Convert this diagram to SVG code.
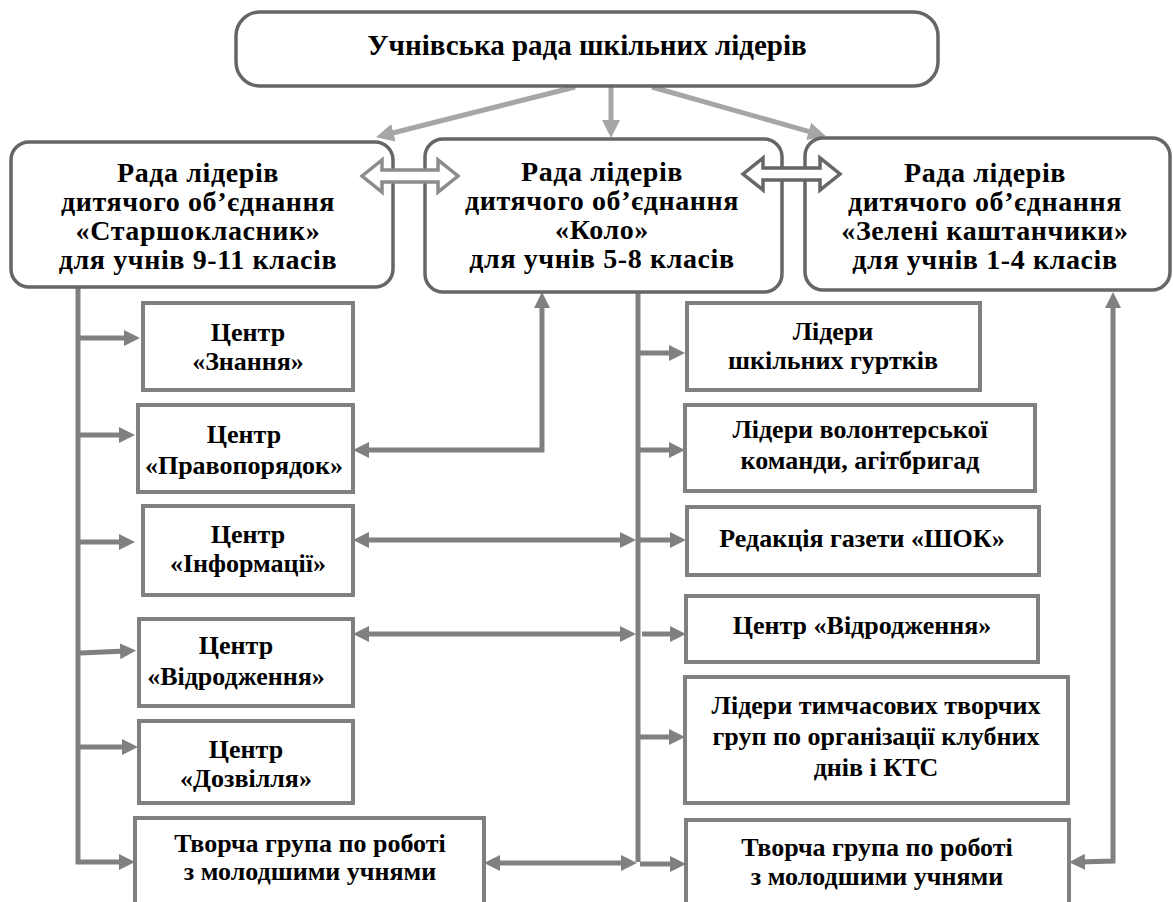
<svg xmlns="http://www.w3.org/2000/svg" width="1173" height="902" viewBox="0 0 1173 902">
<style>
.rb{fill:#fff;stroke:#666;stroke-width:3.5}
.bx{fill:#fff;stroke:#808080;stroke-width:4}
text{font-family:'Liberation Serif','Times New Roman',serif;font-weight:bold;fill:#000;text-anchor:middle}
.t1{font-size:28px;letter-spacing:0.6px}
.t2{font-size:26px}
.tt{font-size:29px}
.c{fill:none;stroke:#808080;stroke-width:5}
.cl{fill:none;stroke:#a6a6a6;stroke-width:5}
.ha{fill:#fff;stroke-width:3.5}
</style>
<defs>
<marker id="ah" viewBox="0 0 16 16" refX="6" refY="8" markerWidth="16" markerHeight="16" markerUnits="userSpaceOnUse" orient="auto-start-reverse"><path d="M0,0 L16,8 L0,16 z" fill="#808080"/></marker>
<marker id="al" viewBox="0 0 18 18" refX="7" refY="9" markerWidth="18" markerHeight="18" markerUnits="userSpaceOnUse" orient="auto-start-reverse"><path d="M0,0 L18,9 L0,18 z" fill="#a6a6a6"/></marker>
</defs>

<g id="connectors">
<path class="cl" d="M575,87 L386.7,134.5" marker-end="url(#al)"/>
<path class="cl" d="M611,87 L611,127" marker-end="url(#al)"/>
<path class="cl" d="M652,87 L815.4,133.3" marker-end="url(#al)"/>
<path class="c" d="M78,287 V862 H125" marker-end="url(#ah)"/>
<path class="c" d="M80,338 H130" marker-end="url(#ah)"/>
<path class="c" d="M80,435 H125" marker-end="url(#ah)"/>
<path class="c" d="M80,542 H125" marker-end="url(#ah)"/>
<path class="c" d="M80,653 L126,651" marker-end="url(#ah)"/>
<path class="c" d="M80,747 H128" marker-end="url(#ah)"/>
<path class="c" d="M363,450 H542 V302" marker-start="url(#ah)" marker-end="url(#ah)"/>
<path class="c" d="M638,292 V862"/>
<path class="c" d="M640,353 H675" marker-end="url(#ah)"/>
<path class="c" d="M640,450 H675" marker-end="url(#ah)"/>
<path class="c" d="M640,540 H676" marker-end="url(#ah)"/>
<path class="c" d="M642,634 H676" marker-end="url(#ah)"/>
<path class="c" d="M640,737 H675" marker-end="url(#ah)"/>
<path class="c" d="M640,864 H676" marker-end="url(#ah)"/>
<path class="c" d="M363,540 H626" marker-start="url(#ah)" marker-end="url(#ah)"/>
<path class="c" d="M363,634 H626" marker-start="url(#ah)" marker-end="url(#ah)"/>
<path class="c" d="M494,863 H627" marker-start="url(#ah)" marker-end="url(#ah)"/>
<path class="c" d="M1079,862 L1113,861 V302" marker-start="url(#ah)" marker-end="url(#ah)"/>
</g>

<g id="top">
<rect class="rb" x="236" y="12" width="702" height="74" rx="24"/>
<text class="tt" x="587" y="55">Учнівська рада шкільних лідерів</text>
</g>

<g id="left-council">
<rect class="rb" x="11" y="142" width="382" height="145" rx="18"/>
<text class="t1" x="198" y="182">Рада лідерів</text>
<text class="t1" x="198" y="211">дитячого об’єднання</text>
<text class="t1" x="198" y="240">«Старшокласник»</text>
<text class="t1" x="198" y="269">для учнів 9-11 класів</text>
</g>

<g id="mid-council">
<rect class="rb" x="425" y="139" width="357" height="153" rx="18"/>
<text class="t1" x="602" y="181">Рада лідерів</text>
<text class="t1" x="602" y="210">дитячого об’єднання</text>
<text class="t1" x="602" y="239">«Коло»</text>
<text class="t1" x="602" y="268">для учнів 5-8 класів</text>
</g>

<g id="right-council">
<rect class="rb" x="805" y="138" width="365" height="152" rx="18"/>
<text class="t1" x="985" y="182">Рада лідерів</text>
<text class="t1" x="985" y="211">дитячого об’єднання</text>
<text class="t1" x="985" y="240">«Зелені каштанчики»</text>
<text class="t1" x="985" y="269">для учнів 1-4 класів</text>
</g>

<g id="hollow-left">
<path class="ha" stroke="#8c8c8c" d="M362,176 L382,160 L382,170 L438,170 L438,160 L458,176 L438,192 L438,182 L382,182 L382,192 Z"/>
</g>
<g id="hollow-right">
<path class="ha" stroke="#666" d="M743,174 L763,158 L763,168 L820,168 L820,158 L840,174 L820,190 L820,180 L763,180 L763,190 Z"/>
</g>

<g id="c-znannia">
<rect class="bx" x="143" y="303" width="210" height="87"/>
<text class="t2" x="248" y="341">Центр</text>
<text class="t2" x="248" y="370">«Знання»</text>
</g>
<g id="c-pravoporiadok">
<rect class="bx" x="138" y="405" width="215" height="87"/>
<text class="t2" x="244" y="443">Центр</text>
<text class="t2" x="244" y="474">«Правопорядок»</text>
</g>
<g id="c-informatsii">
<rect class="bx" x="143" y="506" width="210" height="89"/>
<text class="t2" x="248" y="543">Центр</text>
<text class="t2" x="248" y="572">«Інформації»</text>
</g>
<g id="c-vidrodzhennia-l">
<rect class="bx" x="139" y="619" width="214" height="87"/>
<text class="t2" x="236" y="654">Центр</text>
<text class="t2" x="236" y="685">«Відродження»</text>
</g>
<g id="c-dozvillia">
<rect class="bx" x="139" y="721" width="214" height="82"/>
<text class="t2" x="246" y="758">Центр</text>
<text class="t2" x="246" y="787">«Дозвілля»</text>
</g>
<g id="tvorcha-l">
<rect class="bx" x="135" y="818" width="349" height="95"/>
<text class="t2" x="310" y="852">Творча група по роботі</text>
<text class="t2" x="310" y="880">з молодшими учнями</text>
</g>

<g id="r-hurtky">
<rect class="bx" x="687" y="303" width="293" height="87"/>
<text class="t2" x="833" y="340">Лідери</text>
<text class="t2" x="833" y="369">шкільних гуртків</text>
</g>
<g id="r-volontery">
<rect class="bx" x="685" y="405" width="350" height="86"/>
<text class="t2" x="860" y="438">Лідери волонтерської</text>
<text class="t2" x="860" y="469">команди, агітбригад</text>
</g>
<g id="r-redaktsiia">
<rect class="bx" x="687" y="507" width="352" height="68"/>
<text class="t2" x="862" y="547">Редакція газети «ШОК»</text>
</g>
<g id="r-vidrodzhennia">
<rect class="bx" x="686" y="596" width="352" height="66"/>
<text class="t2" x="862" y="634">Центр «Відродження»</text>
</g>
<g id="r-tymchasovi">
<rect class="bx" x="685" y="677" width="383" height="126"/>
<text class="t2" x="876" y="714">Лідери тимчасових творчих</text>
<text class="t2" x="876" y="745">груп по організації  клубних</text>
<text class="t2" x="876" y="776">днів і КТС</text>
</g>
<g id="tvorcha-r">
<rect class="bx" x="686" y="820" width="383" height="95"/>
<text class="t2" x="877" y="856">Творча група по роботі</text>
<text class="t2" x="877" y="885">з молодшими учнями</text>
</g>
</svg>
